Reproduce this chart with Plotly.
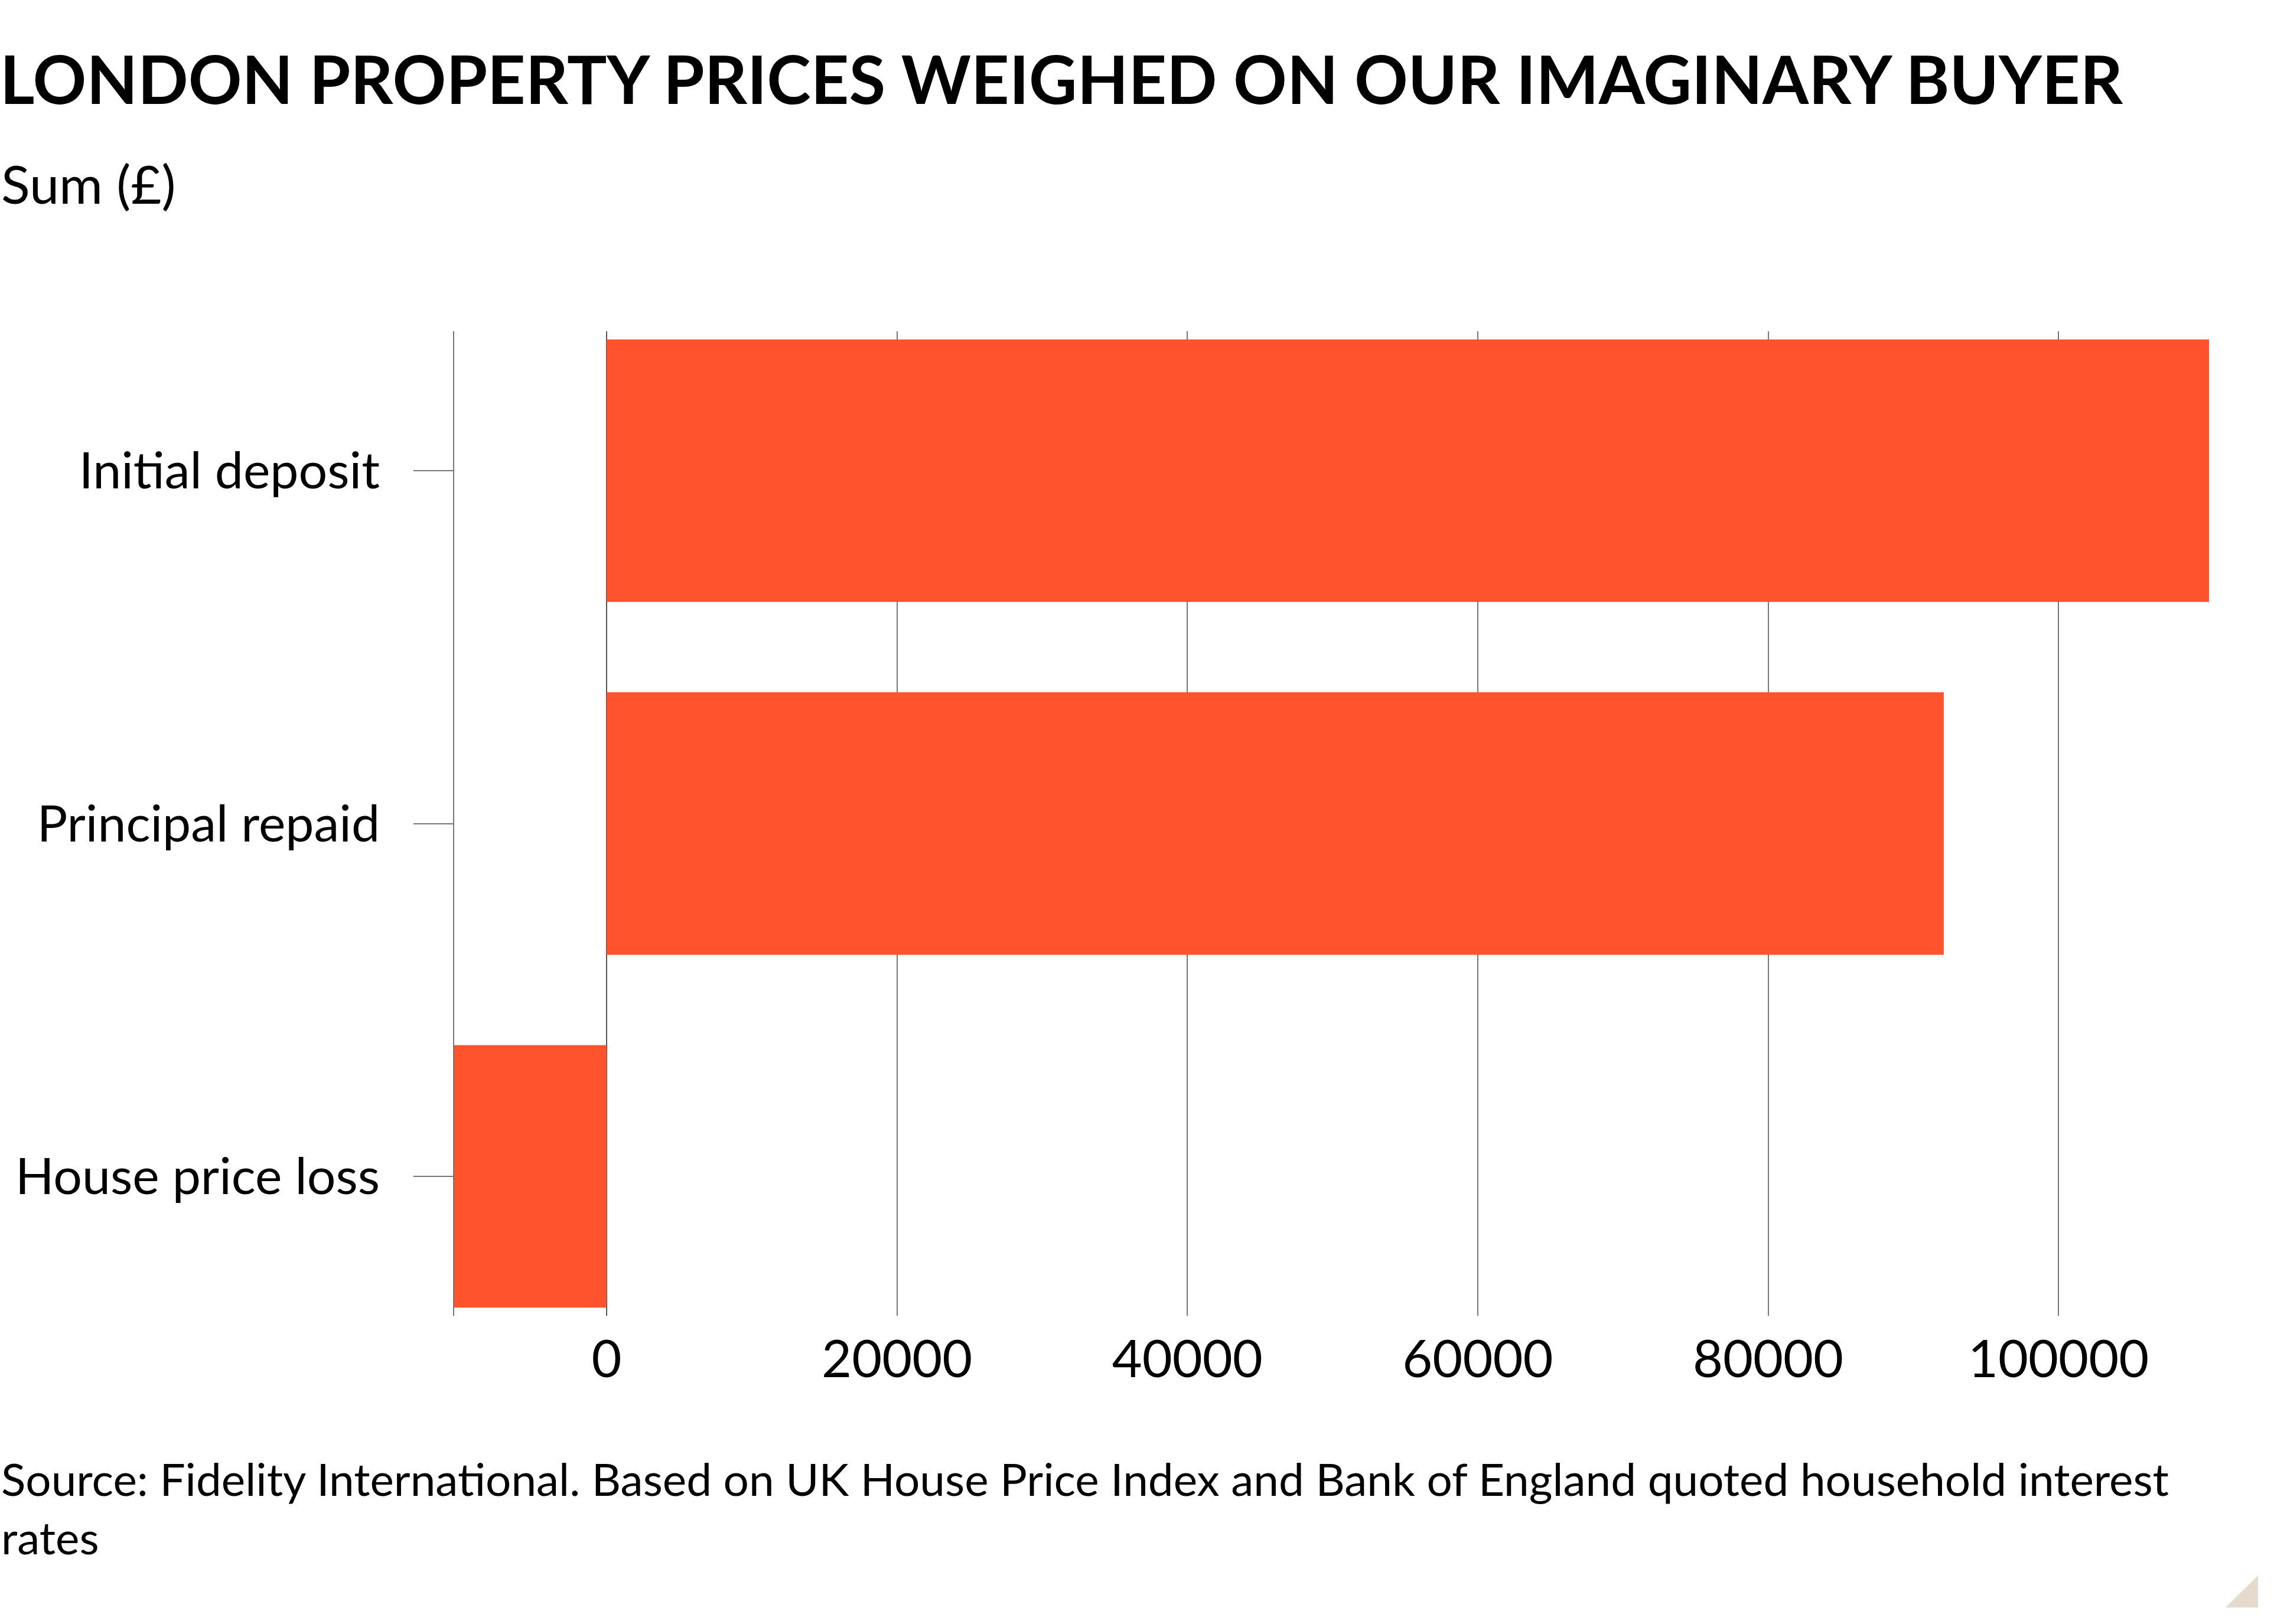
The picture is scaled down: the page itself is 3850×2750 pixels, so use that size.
import plotly.graph_objects as go

# chart values (read from the FT graphic)
CATEGORIES = ['Initial deposit', 'Principal repaid', 'House price loss']
SUMS = [110370, 92100, -10500]
TICK_VALUES = [0, 20000, 40000, 60000, 80000, 100000]

TITLE = 'LONDON PROPERTY PRICES WEIGHED ON OUR IMAGINARY BUYER'
SUBTITLE = 'Sum (£)'
SOURCE = ('Source: Fidelity International. Based on UK House Price Index and Bank of England '
          'quoted household interest<br>rates')

BAR_COLOUR = '#ff532e'
GRID_COLOUR = '#777777'
FONT = 'Lato'

W, H = 3850, 2750
M_L, M_R, M_T, M_B = 769, 110, 561, 522
PLOT_W = W - M_L - M_R
PLOT_H = H - M_T - M_B


def px_x(px):
    # pixel x in the page -> paper coords
    return (px - M_L) / PLOT_W


def px_y(py):
    return (H - M_B - py) / PLOT_H


fig = go.Figure(go.Bar(
    x=SUMS,
    y=CATEGORIES,
    orientation='h',
    marker=dict(color=BAR_COLOUR, line=dict(width=0)),
    hoverinfo='x+y',
))

fig.update_layout(
    width=W,
    height=H,
    margin=dict(l=M_L, r=M_R, t=M_T, b=M_B),
    paper_bgcolor='white',
    plot_bgcolor='white',
    showlegend=False,
    bargap=0.256,
    font=dict(family=FONT, color='black'),
    title=dict(
        text=f'<b>{TITLE}</b>',
        font=dict(family=FONT, size=112.5, color='black'),
        x=0, xref='container', xanchor='left',
        y=1 - 137 / H, yref='container', yanchor='middle',
    ),
)

fig.update_xaxes(
    range=[min(SUMS), max(SUMS)],
    tickvals=TICK_VALUES,
    tickformat='d',
    showgrid=True,
    gridcolor=GRID_COLOUR,
    gridwidth=1.5,
    zeroline=True,
    zerolinecolor='#555555',
    zerolinewidth=1.5,
    showline=False,
    ticks='',
    tickfont=dict(family=FONT, size=88, color='black'),
    ticklabelstandoff=15,
)

fig.update_yaxes(
    categoryorder='array',
    categoryarray=CATEGORIES,
    range=[2.395, -0.395],
    showgrid=False,
    zeroline=False,
    showline=True,
    linecolor=GRID_COLOUR,
    linewidth=1.5,
    ticks='outside',
    ticklen=67,
    tickwidth=1.5,
    tickcolor=GRID_COLOUR,
    tickfont=dict(family=FONT, size=86, color='black'),
    ticklabelstandoff=40,
)

fig.add_annotation(
    text=SUBTITLE, xref='paper', yref='paper',
    x=px_x(0), y=px_y(310), xanchor='left', yanchor='middle',
    showarrow=False, font=dict(family=FONT, size=90, color='black'),
)

fig.add_annotation(
    text=SOURCE, xref='paper', yref='paper',
    x=px_x(0), y=px_y(2455), xanchor='left', yanchor='top', align='left',
    showarrow=False, font=dict(family=FONT, size=76.5, color='black'),
)

# folded corner mark, bottom right
fig.add_shape(
    type='path', xref='paper', yref='paper',
    path=f'M {px_x(3823)} {px_y(2668)} L {px_x(3823)} {px_y(2722)} L {px_x(3768)} {px_y(2722)} Z',
    fillcolor='#e6d9ce', line=dict(width=0),
)

# drop the browser's default body margin so the figure sits at the page corner
fig.write_html('out.html', config={'displayModeBar': False},
               post_script="document.body.style.margin = '0';")
